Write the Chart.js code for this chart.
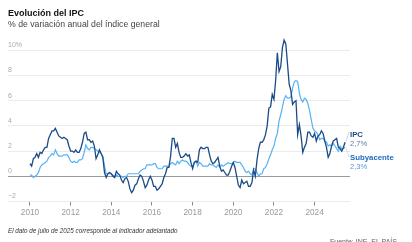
<!DOCTYPE html>
<html><head><meta charset="utf-8">
<script src="https://cdn.jsdelivr.net/npm/chart.js@4/dist/chart.umd.min.js"></script>
<style>
html,body{margin:0;padding:0;background:#fff;width:412px;height:242px;overflow:hidden;}
body{position:relative;font-family:"Liberation Sans",Arial,sans-serif;}
#wrap{position:absolute;left:0;top:0;width:412px;height:242px;}
.t{position:absolute;white-space:nowrap;}
#title{left:8px;top:9px;font-size:9px;line-height:9px;font-weight:bold;color:#111;}
#sub{left:8px;top:20px;font-size:8.7px;line-height:8.7px;color:#444;}
#note{left:8px;top:227.7px;font-size:6.3px;line-height:6.3px;font-style:italic;color:#333;}
#src{left:330px;top:237.6px;font-size:7px;line-height:7px;color:#666;}
.lbl{left:350px;font-size:7.8px;line-height:7.8px;}
</style></head>
<body>
<div id="wrap"><canvas id="c"></canvas></div>
<div class="t" id="title">Evolución del IPC</div>
<div class="t" id="sub">% de variación anual del índice general</div>
<div class="t lbl" style="top:130.5px;font-weight:bold;color:#1b4b87;">IPC</div>
<div class="t lbl" style="top:140px;color:#5b7fae;font-size:7.6px;line-height:7.6px;">2,7%</div>
<div class="t lbl" style="top:153.5px;font-weight:bold;color:#1f6cbf;">Subyacente</div>
<div class="t lbl" style="top:163px;color:#5a98d6;font-size:7.6px;line-height:7.6px;">2,3%</div>
<div class="t" id="note">El dato de julio de 2025 corresponde al indicador adelantado</div>
<div class="t" id="src">Fuente: INE, EL PAÍS</div>
<script>
// Monthly data, January 2010 – July 2025 (annual % change)
const startYear = 2010;
const ipc = [
  1.0, 0.8, 1.4, 1.5, 1.8, 1.5, 1.9, 1.8, 2.1, 2.3, 2.3, 3.0,   // 2010
  3.3, 3.6, 3.6, 3.8, 3.5, 3.2, 3.1, 3.0, 3.1, 3.0, 2.9, 2.4,   // 2011
  2.0, 2.0, 1.9, 2.1, 1.9, 1.9, 2.2, 2.7, 3.4, 3.5, 2.9, 2.9,   // 2012
  2.7, 2.8, 2.4, 1.4, 1.7, 2.1, 1.8, 1.5, 0.3, -0.1, 0.2, 0.3,  // 2013
  0.2, 0.0, -0.1, 0.4, 0.2, 0.1, -0.3, -0.5, -0.2, -0.1, -0.4, -1.0, // 2014
  -1.3, -1.1, -0.7, -0.6, -0.2, 0.1, 0.0, -0.4, -0.9, -0.7, -0.3, 0.0, // 2015
  -0.3, -0.8, -0.8, -1.1, -1.0, -0.8, -0.6, -0.1, 0.2, 0.7, 0.7, 1.6, // 2016
  3.0, 3.0, 2.3, 2.6, 1.9, 1.5, 1.5, 1.6, 1.8, 1.6, 1.7, 1.1,   // 2017
  0.6, 1.1, 1.2, 1.1, 2.1, 2.3, 2.2, 2.2, 2.3, 2.3, 1.7, 1.2,   // 2018
  1.0, 1.1, 1.3, 1.5, 0.8, 0.4, 0.5, 0.3, 0.1, 0.1, 0.4, 0.8,   // 2019
  1.1, 0.7, 0.0, -0.7, -0.9, -0.3, -0.6, -0.5, -0.4, -0.8, -0.8, -0.5, // 2020
  0.5, 0.0, 1.3, 2.2, 2.7, 2.7, 2.9, 3.3, 4.0, 5.4, 5.5, 6.5,   // 2021
  6.1, 7.6, 9.8, 8.3, 8.7, 10.2, 10.8, 10.5, 8.9, 7.3, 6.8, 5.7, // 2022
  5.9, 6.0, 3.3, 4.1, 3.2, 1.9, 2.3, 2.6, 3.5, 3.5, 3.2, 3.1,   // 2023
  3.4, 2.8, 3.2, 3.3, 3.6, 3.4, 2.8, 2.3, 1.5, 1.8, 2.4, 2.8,   // 2024
  2.9, 3.0, 2.3, 2.2, 2.0, 2.3, 2.7                             // 2025
];
const subyacente = [
  0.1, 0.1, -0.1, 0.0, 0.1, 0.3, 0.7, 0.9, 1.0, 1.1, 1.2, 1.5,  // 2010
  1.6, 1.8, 1.7, 2.1, 1.8, 1.6, 1.6, 1.6, 1.7, 1.7, 1.7, 1.5,   // 2011
  1.2, 1.1, 1.2, 1.1, 1.1, 1.3, 1.3, 1.4, 1.9, 2.5, 2.2, 2.1,   // 2012
  2.3, 2.3, 2.2, 2.1, 2.0, 1.9, 1.8, 1.6, 0.8, 0.2, 0.2, 0.2,   // 2013
  0.2, 0.1, 0.0, 0.1, 0.0, 0.0, 0.0, -0.1, 0.0, 0.0, 0.2, 0.2,  // 2014
  0.2, 0.2, 0.2, 0.2, 0.2, 0.4, 0.5, 0.6, 0.6, 0.9, 0.9, 0.9,   // 2015
  0.9, 1.0, 1.0, 0.7, 0.6, 0.6, 0.6, 0.8, 0.8, 0.8, 0.8, 1.0,   // 2016
  1.1, 1.0, 0.9, 1.2, 1.0, 1.2, 1.3, 1.2, 1.2, 1.1, 0.9, 0.8,   // 2017
  0.8, 1.1, 1.2, 0.8, 1.1, 1.0, 0.8, 0.8, 0.8, 0.8, 1.0, 0.9,   // 2018
  0.9, 0.8, 0.7, 0.9, 0.7, 0.9, 0.8, 0.9, 1.0, 1.1, 1.0, 1.0,   // 2019
  1.1, 1.2, 1.1, 1.1, 1.1, 0.9, 0.7, 0.4, 0.3, 0.4, 0.2, 0.1,   // 2020
  0.6, 0.6, 0.3, 0.0, 0.2, 0.2, 0.6, 0.7, 1.0, 1.4, 1.7, 2.1,   // 2021
  2.4, 3.0, 3.4, 4.4, 4.9, 5.5, 6.1, 6.4, 6.2, 6.2, 6.3, 7.0,   // 2022
  7.5, 7.6, 7.5, 6.6, 6.1, 5.9, 6.2, 6.1, 5.8, 5.2, 4.5, 3.8,   // 2023
  3.6, 3.5, 3.3, 2.9, 3.0, 3.0, 2.8, 2.7, 2.4, 2.5, 2.4, 2.6,   // 2024
  2.4, 2.2, 2.0, 2.4, 2.2, 2.2, 2.3                             // 2025
];
const yearTicks = [2010, 2012, 2014, 2016, 2018, 2020, 2022, 2024];
const yTicks = [-2, 0, 2, 4, 6, 8, 10];

const toPts = arr => arr.map((v, i) => ({x: startYear + i / 12, y: v}));

const leaders = {
  id: 'leaders',
  afterDatasetsDraw(chart) {
    const ctx = chart.ctx, xs = chart.scales.x, ys = chart.scales.y;
    const li = ipc.length - 1, ls = subyacente.length - 1;
    const x1 = xs.getPixelForValue(startYear + li / 12), y1 = ys.getPixelForValue(ipc[li]);
    const x2 = xs.getPixelForValue(startYear + ls / 12), y2 = ys.getPixelForValue(subyacente[ls]);
    ctx.save();
    ctx.lineWidth = 0.8;
    ctx.strokeStyle = '#b9c9dc';
    ctx.beginPath(); ctx.moveTo(x1 + 1, y1 - 1); ctx.lineTo(349, 132); ctx.stroke();
    ctx.strokeStyle = '#b6dcf7';
    ctx.beginPath(); ctx.moveTo(x2 + 1, y2 + 1); ctx.lineTo(349, 157); ctx.stroke();
    ctx.restore();
  }
};

new Chart(document.getElementById('c'), {
  type: 'line',
  data: {
    datasets: [
      {label: 'IPC', data: toPts(ipc), borderColor: '#1b4b87', borderWidth: 1.3, pointRadius: 0, tension: 0, fill: false},
      {label: 'Subyacente', data: toPts(subyacente), borderColor: '#55b2f4', borderWidth: 1.2, pointRadius: 0, tension: 0, fill: false}
    ]
  },
  options: {
    responsive: true, maintainAspectRatio: false, animation: false,
    layout: {padding: {left: 8, right: 62, top: 37, bottom: 0}},
    plugins: {legend: {display: false}, tooltip: {enabled: false}, title: {display: false}},
    scales: {
      x: {
        type: 'linear', min: 2008.92, max: 2025.74,
        afterBuildTicks: s => { s.ticks = yearTicks.map(v => ({value: v})); },
        afterFit: s => { s.height = 40.5; },
        border: {display: false},
        grid: {drawOnChartArea: false, drawTicks: true, tickLength: 4, color: '#8a8a8a', lineWidth: 1},
        ticks: {color: '#999', font: {family: '"Liberation Sans", Arial, sans-serif', size: 8.2}, padding: 2, maxRotation: 0,
                callback: v => String(v)}
      },
      y: {
        type: 'linear', min: -2, max: 11.05,
        afterBuildTicks: s => { s.ticks = yTicks.map(v => ({value: v})); },
        afterFit: s => { s.width = 0; },
        border: {display: false},
        grid: {drawTicks: false, color: ctx => (ctx.tick && ctx.tick.value === 0) ? '#9a9a9a' : '#ebebeb', lineWidth: 1},
        ticks: {mirror: true, padding: 0, labelOffset: -5, color: '#aaa',
                font: {family: '"Liberation Sans", Arial, sans-serif', size: 7},
                callback: v => v === 10 ? '10%' : (v < 0 ? '−' + Math.abs(v) : String(v))}
      }
    }
  },
  plugins: [leaders]
});
</script>
</body></html>
